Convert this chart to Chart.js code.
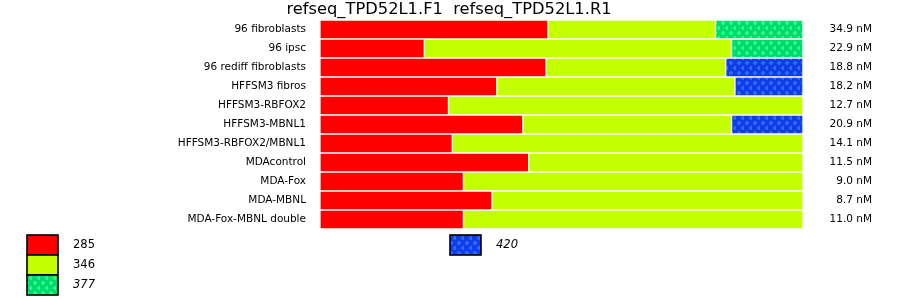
<!DOCTYPE html>
<html>
<head>
<meta charset="utf-8">
<script src="https://cdn.jsdelivr.net/npm/chart.js@4.4.1/dist/chart.umd.min.js"></script>
<style>
  html, body { margin: 0; padding: 0; background: #fff; }
  #wrap { width: 900px; height: 299px; }
</style>
</head>
<body>
<div id="wrap"><canvas id="chart" width="900" height="299"></canvas></div>
<script>
const title = "refseq_TPD52L1.F1  refseq_TPD52L1.R1";
const samples = [
  "96 fibroblasts", "96 ipsc", "96 rediff fibroblasts", "HFFSM3 fibros",
  "HFFSM3-RBFOX2", "HFFSM3-MBNL1", "HFFSM3-RBFOX2/MBNL1", "MDAcontrol",
  "MDA-Fox", "MDA-MBNL", "MDA-Fox-MBNL double"
];
const totals = ["34.9 nM", "22.9 nM", "18.8 nM", "18.2 nM", "12.7 nM", "20.9 nM",
  "14.1 nM", "11.5 nM", "9.0 nM", "8.7 nM", "11.0 nM"];

// percent of each isoform per sample
const iso285 = [47.2, 21.6, 46.8, 36.6, 26.6, 42.0, 27.4, 43.2, 29.7, 35.6, 29.7];
const iso346 = [34.7, 63.6, 37.2, 49.3, 73.4, 43.2, 72.6, 56.8, 70.3, 64.4, 70.3];
const iso377 = [18.1, 14.8, null, null, null, null, null, null, null, null, null];
const iso420 = [null, null, 16.0, 14.1, null, 14.8, null, null, null, null, null];

// dotted fill used for the minor isoforms
function dots(base, dot) {
  const c = document.createElement("canvas");
  c.width = 8; c.height = 10;
  const g = c.getContext("2d");
  g.fillStyle = base;
  g.fillRect(0, 0, 8, 10);
  g.fillStyle = dot;
  [[1, 1], [5, 6]].forEach(([x, y]) => {
    g.fillRect(x + 1, y, 2, 4);
    g.fillRect(x, y + 1, 4, 2);
  });
  return document.getElementById("chart").getContext("2d").createPattern(c, "repeat");
}

const greenDots = dots("#00dc6c", "#2ef58e");
const blueDots = dots("#0f3de6", "#3166ff");

const bar = (label, data, fill, italic) => ({
  label, data,
  backgroundColor: fill,
  borderColor: "#ffffff",
  borderWidth: 1,
  borderSkipped: false,
  categoryPercentage: 1,
  barPercentage: 1,
  italic
});

const labelsPlugin = {
  id: "labels",
  afterDraw(chart) {
    const ctx = chart.ctx;
    const y = chart.scales.y;
    const area = chart.chartArea;
    ctx.save();
    ctx.fillStyle = "#000";

    ctx.font = "16.3px 'DejaVu Sans'";
    ctx.textAlign = "center";
    ctx.textBaseline = "alphabetic";
    ctx.fillText(title, 449, 14);

    ctx.font = "10.5px 'DejaVu Sans'";
    ctx.textBaseline = "middle";
    samples.forEach((s, i) => {
      const py = y.getPixelForTick(i);
      ctx.textAlign = "right";
      ctx.fillText(s, area.left - 14, py);
      ctx.fillText(totals[i], 872, py);
    });

    // legend: three per column
    const colX = [27, 450];
    chart.data.datasets.forEach((ds, i) => {
      const bx = colX[Math.floor(i / 3)];
      const by = 235 + (i % 3) * 20;
      ctx.fillStyle = ds.backgroundColor;
      ctx.fillRect(bx, by, 31, 20);
      ctx.strokeStyle = "#000";
      ctx.lineWidth = 1.6;
      ctx.strokeRect(bx, by, 31, 20);
      ctx.fillStyle = "#000";
      ctx.textAlign = "left";
      ctx.font = (ds.italic ? "italic " : "") + "11.5px 'DejaVu Sans'";
      ctx.fillText(ds.label, bx + 46, by + 10.5);
    });
    ctx.restore();
  }
};

new Chart(document.getElementById("chart"), {
  type: "bar",
  data: {
    labels: samples,
    datasets: [
      bar("285", iso285, "#ff0000", false),
      bar("346", iso346, "#c4ff00", false),
      bar("377", iso377, greenDots, true),
      bar("420", iso420, blueDots, true)
    ]
  },
  options: {
    indexAxis: "y",
    responsive: false,
    animation: false,
    layout: {
      padding: { left: 320, right: 97, top: 20, bottom: 70 }
    },
    plugins: {
      legend: { display: false },
      tooltip: { enabled: false }
    },
    scales: {
      x: { stacked: true, min: 0, max: 100, display: false },
      y: { stacked: true, display: false }
    }
  },
  plugins: [labelsPlugin]
});
</script>
</body>
</html>
